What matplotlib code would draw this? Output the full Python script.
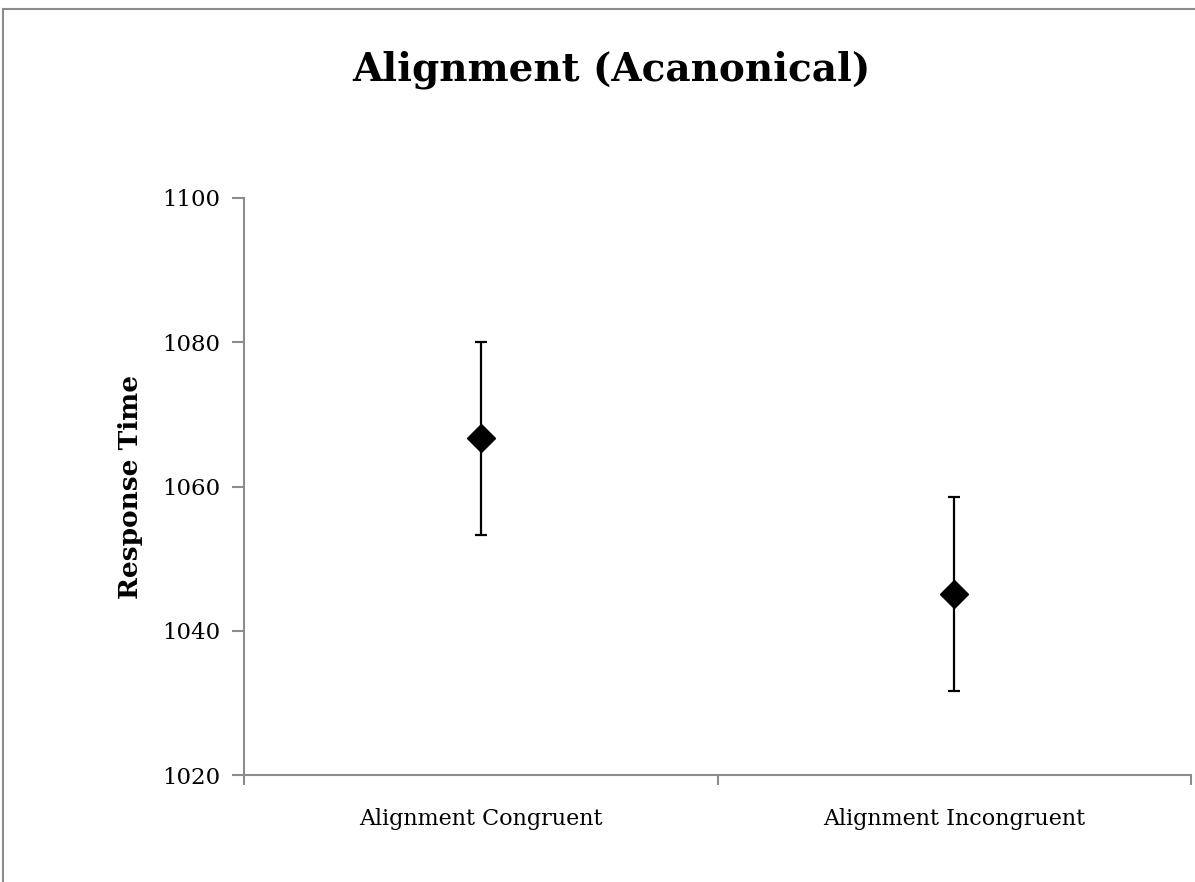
import matplotlib
matplotlib.use("Agg")
import matplotlib.pyplot as plt
from matplotlib.lines import Line2D

categories = ["Alignment Congruent", "Alignment Incongruent"]
means = [1066.7, 1045.1]
errors = [13.4, 13.5]
yticks = [1020, 1040, 1060, 1080, 1100]

serif = ["DejaVu Serif"]
fig = plt.figure(figsize=(11.95, 8.82), dpi=100)
ax = fig.add_axes([244/1195, 1-775/882, (1191-244)/1195, (775-198)/882])

xs = [i + 0.5 for i in range(len(categories))]
ax.errorbar(xs, means, yerr=errors, fmt='D', color='black', ecolor='black',
            elinewidth=1.6, capsize=4.5, capthick=1.6, markersize=14)

ax.set_xlim(0, len(categories))
ax.set_ylim(yticks[0], yticks[-1])
ax.set_yticks(yticks)
ax.set_yticklabels([str(t) for t in yticks], fontsize=16.5, family=serif)
ax.set_xticks(range(len(categories) + 1))
ax.set_xticklabels([])
ax.set_xticks(xs, minor=True)
ax.set_xticklabels(categories, minor=True, fontsize=16, family=serif)
ax.tick_params(axis='x', which='major', length=7, width=1.5, color='#8c8c8c', direction='out')
ax.tick_params(axis='x', which='minor', length=0, pad=24)
ax.tick_params(axis='y', length=9, width=1.5, color='#8c8c8c', direction='out', pad=8)

for s in ['top', 'right']:
    ax.spines[s].set_visible(False)
for s in ['left', 'bottom']:
    ax.spines[s].set_color('#8c8c8c')
    ax.spines[s].set_linewidth(1.5)

ax.set_ylabel("Response Time", fontsize=19, fontweight='bold', family=serif, labelpad=14)

fig.text(0.512, 1-70/882, "Alignment (Acanonical)", ha='center', va='center',
         fontsize=28, fontweight='bold', family=serif)

# chart frame (left and top edges)
fig.add_artist(Line2D([3/1195, 3/1195], [0, 1-9/882], transform=fig.transFigure, color='#8c8c8c', lw=1.5))
fig.add_artist(Line2D([3/1195, 1], [1-9/882, 1-9/882], transform=fig.transFigure, color='#8c8c8c', lw=1.5))

fig.savefig("out.png", dpi=100)
